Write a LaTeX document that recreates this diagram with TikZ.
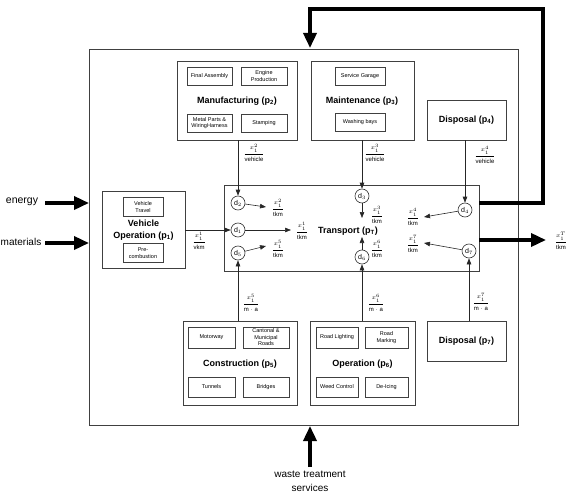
\documentclass[tikz,border=0pt]{standalone}
\usepackage{fontspec}
\setmainfont{Liberation Sans}
\usetikzlibrary{arrows.meta}
\newcommand{\fr}[2]{$\displaystyle\frac{#1\rule[-0.9ex]{0pt}{0pt}}{\mathrm{#2}\rule{0pt}{2.0ex}}$}
\begin{document}
\begin{tikzpicture}[x=1pt,y=-1pt,
 box/.style={draw=black!75, line width=0.7pt, inner sep=0pt},
 sub/.style={draw=black!75, line width=0.6pt, font=\fontsize{5.5}{6.5}\selectfont, align=center, inner sep=0pt},
 ttl/.style={font=\fontsize{9}{11.5}\selectfont\bfseries, align=center, inner sep=0pt},
 dn/.style={circle, draw=black!80, line width=0.6pt, minimum size=14pt, inner sep=0pt, font=\fontsize{7}{8}\selectfont},
 lbl/.style={font=\fontsize{6}{7}\selectfont, inner sep=0pt},
 arr/.style={-{Triangle[length=6pt,width=4.5pt]}, line width=0.6pt, black!85},
 big/.style={line width=3.5pt, -{Triangle[length=15pt,width=13pt]}},
 side/.style={font=\fontsize{10}{12}\selectfont, align=center, inner sep=0pt},
 ]
\useasboundingbox (0,0) rectangle (570,500);

% outer system box
\node[box, minimum width=429pt, minimum height=376pt] (outer) at (303.5,237) {};

% Manufacturing
\node[box, minimum width=120pt, minimum height=79pt] (mfg) at (237,100.5) {};
\node[sub, minimum width=45pt, minimum height=18pt] (fa) at (209.5,76) {Final Assembly};
\node[sub, minimum width=46pt, minimum height=18pt] (ep) at (264,76) {Engine\\Production};
\node[sub, minimum width=45pt, minimum height=18pt] (mp) at (209.5,123) {Metal Parts \&\\WiringHarness};
\node[sub, minimum width=46pt, minimum height=18pt] (st) at (264,123) {Stamping};
\node[ttl] (mfgt) at (237,101) {Manufacturing (p\textsubscript{2})};

% Maintenance
\node[box, minimum width=103pt, minimum height=79pt] (mnt) at (362.5,100.5) {};
\node[sub, minimum width=50pt, minimum height=18pt] (sg) at (360,76) {Service Garage};
\node[sub, minimum width=50pt, minimum height=18pt] (wb) at (360,122) {Washing bays};
\node[ttl] (mntt) at (362,101) {Maintenance (p\textsubscript{3})};

% Disposal p4
\node[box, minimum width=79pt, minimum height=40pt, font=\fontsize{9}{11}\selectfont\bfseries] (dp4) at (466.5,120) {Disposal (p\textsubscript{4})};

% Vehicle operation
\node[box, minimum width=83pt, minimum height=77pt] (vop) at (143.5,230) {};
\node[sub, minimum width=40pt, minimum height=19pt] (vt) at (143,207) {Vehicle\\Travel};
\node[sub, minimum width=40pt, minimum height=19pt] (pc) at (143,253) {Pre-\\combustion};
\node[ttl] (vopt) at (143.5,230) {Vehicle\\Operation (p\textsubscript{1})};

% Transport
\node[box, minimum width=255pt, minimum height=86pt] (trans) at (351.5,228) {};
\node[ttl] (transt) at (348,231) {Transport (p\textsubscript{T})};

% Construction
\node[box, minimum width=114pt, minimum height=84pt] (con) at (240,363) {};
\node[sub, minimum width=47pt, minimum height=21pt] (mw) at (211.5,337.5) {Motorway};
\node[sub, minimum width=46pt, minimum height=21pt] (cm) at (266,337.5) {Cantonal \&\\Municipal\\Roads};
\node[sub, minimum width=47pt, minimum height=20pt] (tu) at (211.5,387) {Tunnels};
\node[sub, minimum width=46pt, minimum height=20pt] (br) at (266,387) {Bridges};
\node[ttl] (cont) at (240,364) {Construction (p\textsubscript{5})};

% Operation
\node[box, minimum width=105pt, minimum height=84pt] (ope) at (362.5,363) {};
\node[sub, minimum width=42pt, minimum height=21pt] (rl) at (337,337.5) {Road Lighting};
\node[sub, minimum width=43pt, minimum height=21pt] (rm) at (386.5,337.5) {Road\\Marking};
\node[sub, minimum width=42pt, minimum height=20pt] (wc) at (337,387) {Weed Control};
\node[sub, minimum width=43pt, minimum height=20pt] (di) at (386.5,387) {De-Icing};
\node[ttl] (opet) at (362.5,364) {Operation (p\textsubscript{6})};

% Disposal p7
\node[box, minimum width=79pt, minimum height=40pt, font=\fontsize{9}{11}\selectfont\bfseries] (dp7) at (466.5,341) {Disposal (p\textsubscript{7})};

% distribution nodes
\node[dn] (d2) at (238,203) {d$_2$};
\node[dn] (d1) at (238,230) {d$_1$};
\node[dn] (d5) at (238,253) {d$_5$};
\node[dn] (d3) at (362,196) {d$_3$};
\node[dn] (d6) at (362,257) {d$_6$};
\node[dn] (d4) at (465,210) {d$_4$};
\node[dn] (d7) at (469,251) {d$_7$};

% labels inside transport
\node[lbl] (l2) at (278,208) {\fr{x_1^2}{tkm}};
\node[lbl] (l1) at (302,231) {\fr{x_1^1}{tkm}};
\node[lbl] (l5) at (278,249) {\fr{x_1^5}{tkm}};
\node[lbl] (l3) at (377,215) {\fr{x_1^3}{tkm}};
\node[lbl] (l6) at (377,249) {\fr{x_1^6}{tkm}};
\node[lbl] (l4) at (413,217) {\fr{x_1^4}{tkm}};
\node[lbl] (l7) at (413,244) {\fr{x_1^7}{tkm}};

% labels on vertical links
\node[lbl] (lm) at (254,153) {\fr{x_1^2}{vehicle}};
\node[lbl] (lmn) at (375,153) {\fr{x_1^3}{vehicle}};
\node[lbl] (ld4) at (485,155) {\fr{x_1^4}{vehicle}};
\node[lbl] (lv) at (199,241) {\fr{x_1^1}{vkm}};
\node[lbl] (lc) at (251,303) {\fr{x_1^5}{m\cdot a}};
\node[lbl] (lo) at (376,303) {\fr{x_1^6}{m\cdot a}};
\node[lbl] (ld7) at (481,302) {\fr{x_1^7}{m\cdot a}};
\node[lbl] (lT) at (561,241) {\fr{x_1^T}{tkm}};

% vertical links into d-nodes
\draw[arr] (mfg.south -| d2) -- (d2.north);
\draw[arr] (mnt.south -| d3) -- (d3.north);
\draw[arr] (dp4.south -| d4) -- (d4.north);
\draw[arr] (vop.east |- d1) -- (d1.west);
\draw[arr] (con.north -| d5) -- (d5.south);
\draw[arr] (ope.north -| d6) -- (d6.south);
\draw[arr] (dp7.north -| d7) -- (d7.south);

% arrows from d-nodes
\coordinate (e2) at (266,207);
\coordinate (e1) at (291,230);
\coordinate (e5) at (266,246);
\coordinate (e3) at (362,218);
\coordinate (e6) at (362,237);
\coordinate (e4) at (424,217);
\coordinate (e7) at (424,243);
\draw[arr] (d2) -- (e2);
\draw[arr] (d1) -- (e1);
\draw[arr] (d5) -- (e5);
\draw[arr] (d3) -- (e3);
\draw[arr] (d6) -- (e6);
\draw[arr] (d4) -- (e4);
\draw[arr] (d7) -- (e7);

% feedback loop
\coordinate (fb0) at (479,203);
\coordinate (fb1) at (543,203);
\coordinate (fb2) at (543,9);
\coordinate (fb3) at (310,9);
\coordinate (fb4) at (310,48);
\draw[big, line join=miter] (fb0) -- (fb1) -- (fb2) -- (fb3) -- (fb4);

% output
\coordinate (out0) at (479,240);
\coordinate (out1) at (546,240);
\draw[big] (out0) -- (out1);

% inputs
\node[side, font=\fontsize{10.5}{12}\selectfont] (energy) at (22,202) {energy};
\node[side] (mat) at (21,242) {materials};
\coordinate (en0) at (45,203);
\coordinate (en1) at (89,203);
\coordinate (ma0) at (45,243);
\coordinate (ma1) at (89,243);
\draw[big] (en0) -- (en1);
\draw[big] (ma0) -- (ma1);

\node[side, font=\fontsize{10}{14}\selectfont] (waste) at (310,481) {waste treatment\\services};
\coordinate (ws0) at (310,467);
\coordinate (ws1) at (310,426);
\draw[big] (ws0) -- (ws1);
\end{tikzpicture}
\end{document}
